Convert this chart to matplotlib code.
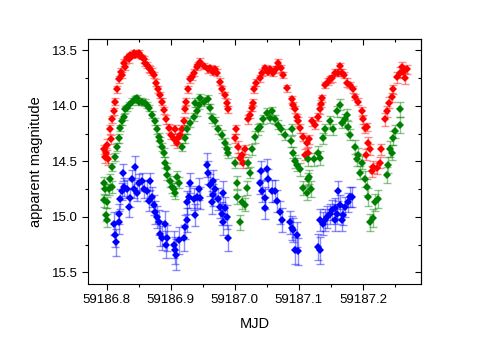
import numpy as np
import matplotlib
matplotlib.use("Agg")
from matplotlib import pyplot as plt
from matplotlib.ticker import MultipleLocator, FormatStrFormatter

plt.rcParams['font.family'] = ['Liberation Sans', 'DejaVu Sans']

MJD0 = 59186.0

# (MJD - 59186, magnitude, error)
red_pts = [
    (0.7958, 14.39, 0.04), (0.7973, 14.46, 0.05), (0.7989, 14.42, 0.04), (0.8005, 14.35, 0.05),
    (0.8020, 14.48, 0.05), (0.8052, 14.21, 0.04), (0.8067, 14.30, 0.04), (0.8083, 14.12, 0.03),
    (0.8114, 14.05, 0.03), (0.8130, 13.96, 0.03), (0.8161, 13.85, 0.03), (0.8192, 13.76, 0.03),
    (0.8223, 13.69, 0.03), (0.8239, 13.72, 0.03), (0.8270, 13.61, 0.03), (0.8286, 13.65, 0.03),
    (0.8317, 13.57, 0.02), (0.8348, 13.58, 0.03), (0.8364, 13.54, 0.02), (0.8395, 13.55, 0.02),
    (0.8427, 13.52, 0.02), (0.8442, 13.54, 0.02), (0.8473, 13.53, 0.02), (0.8505, 13.52, 0.02),
    (0.8520, 13.55, 0.02), (0.8552, 13.56, 0.02), (0.8583, 13.58, 0.03), (0.8598, 13.61, 0.03),
    (0.8630, 13.63, 0.03), (0.8661, 13.66, 0.03), (0.8677, 13.67, 0.03), (0.8708, 13.69, 0.03),
    (0.8739, 13.72, 0.03), (0.8770, 13.79, 0.03), (0.8802, 13.85, 0.03), (0.8833, 13.90, 0.03),
    (0.8864, 13.96, 0.03), (0.8895, 14.04, 0.03), (0.8927, 14.12, 0.04), (0.8973, 14.20, 0.04),
    (0.9005, 14.26, 0.04), (0.9052, 14.30, 0.05), (0.9067, 14.21, 0.04), (0.9098, 14.33, 0.05),
    (0.9114, 14.29, 0.05), (0.9145, 14.26, 0.04), (0.9177, 14.21, 0.04), (0.9208, 14.14, 0.04),
    (0.9223, 14.03, 0.03), (0.9239, 13.96, 0.03), (0.9270, 13.85, 0.03), (0.9302, 13.76, 0.03),
    (0.9333, 13.74, 0.03), (0.9364, 13.70, 0.03), (0.9411, 13.65, 0.03), (0.9427, 13.63, 0.03),
    (0.9458, 13.60, 0.03), (0.9520, 13.64, 0.03), (0.9583, 13.67, 0.03), (0.9614, 13.66, 0.03),
    (0.9661, 13.69, 0.03), (0.9692, 13.67, 0.03), (0.9723, 13.70, 0.03), (0.9770, 13.78, 0.03),
    (0.9802, 13.85, 0.03), (0.9848, 13.90, 0.03), (0.9880, 13.97, 0.03), (0.9895, 14.03, 0.03),
    (1.0005, 14.29, 0.04), (1.0020, 14.21, 0.04), (1.0052, 14.37, 0.05), (1.0083, 14.47, 0.05),
    (1.0114, 14.44, 0.05), (1.0130, 14.51, 0.05), (1.0161, 14.39, 0.04), (1.0208, 14.12, 0.04),
    (1.0239, 14.08, 0.03), (1.0270, 14.02, 0.03), (1.0286, 13.97, 0.03), (1.0302, 13.85, 0.03),
    (1.0333, 13.79, 0.03), (1.0395, 13.75, 0.03), (1.0427, 13.70, 0.03), (1.0473, 13.66, 0.03),
    (1.0520, 13.69, 0.03), (1.0552, 13.67, 0.03), (1.0598, 13.70, 0.03), (1.0645, 13.67, 0.03),
    (1.0677, 13.61, 0.03), (1.0723, 13.66, 0.03), (1.0755, 13.72, 0.03), (1.0817, 13.84, 0.03),
    (1.0895, 13.94, 0.03), (1.0911, 13.99, 0.03), (1.0942, 14.03, 0.03), (1.0973, 14.10, 0.03),
    (1.0989, 14.14, 0.04), (1.1020, 14.20, 0.04), (1.1067, 14.28, 0.04), (1.1098, 14.44, 0.05),
    (1.1130, 14.33, 0.05), (1.1145, 14.42, 0.05), (1.1161, 14.30, 0.04), (1.1208, 14.14, 0.04),
    (1.1255, 14.17, 0.04), (1.1302, 14.10, 0.04), (1.1333, 14.03, 0.04), (1.1348, 13.98, 0.03),
    (1.1364, 13.93, 0.03), (1.1411, 13.81, 0.03), (1.1458, 13.78, 0.03), (1.1489, 13.76, 0.03),
    (1.1520, 13.75, 0.03), (1.1567, 13.70, 0.03), (1.1614, 13.70, 0.03), (1.1645, 13.64, 0.03),
    (1.1677, 13.70, 0.03), (1.1708, 13.72, 0.03), (1.1755, 13.79, 0.04), (1.1802, 13.81, 0.03),
    (1.1848, 13.85, 0.03), (1.1880, 13.92, 0.03), (1.1927, 13.96, 0.03), (1.1989, 14.05, 0.04),
    (1.2005, 14.12, 0.04), (1.2036, 14.20, 0.04), (1.2067, 14.19, 0.04), (1.2052, 14.44, 0.05),
    (1.2083, 14.33, 0.05), (1.2114, 14.39, 0.05), (1.2145, 14.59, 0.05), (1.2161, 14.55, 0.05),
    (1.2223, 14.56, 0.05), (1.2270, 14.51, 0.05), (1.2286, 14.39, 0.05), (1.2348, 14.12, 0.06),
    (1.2380, 14.05, 0.05), (1.2411, 13.97, 0.05), (1.2458, 13.92, 0.04), (1.2473, 13.85, 0.04),
    (1.2536, 13.74, 0.05), (1.2583, 13.70, 0.05), (1.2614, 13.65, 0.05), (1.2630, 13.69, 0.05),
    (1.2661, 13.75, 0.05), (1.2692, 13.67, 0.04),
]

green_pts = [
    (0.7958, 14.69, 0.05), (0.7958, 14.85, 0.06), (0.7973, 14.75, 0.05), (0.7989, 14.98, 0.06),
    (0.8005, 14.87, 0.05), (0.8005, 15.03, 0.06), (0.8036, 14.75, 0.05), (0.8052, 14.66, 0.05),
    (0.8083, 14.55, 0.04), (0.8083, 14.73, 0.05), (0.8130, 14.46, 0.04), (0.8161, 14.37, 0.04),
    (0.8192, 14.29, 0.04), (0.8208, 14.20, 0.03), (0.8239, 14.14, 0.03), (0.8270, 14.10, 0.03),
    (0.8286, 14.03, 0.03), (0.8317, 14.02, 0.03), (0.8348, 13.99, 0.03), (0.8395, 13.96, 0.03),
    (0.8442, 13.94, 0.03), (0.8473, 13.93, 0.03), (0.8505, 13.96, 0.03), (0.8552, 13.96, 0.03),
    (0.8598, 13.97, 0.03), (0.8630, 13.99, 0.03), (0.8661, 14.02, 0.03), (0.8708, 14.08, 0.03),
    (0.8755, 14.14, 0.03), (0.8786, 14.21, 0.04), (0.8817, 14.28, 0.04), (0.8833, 14.32, 0.04),
    (0.8864, 14.37, 0.04), (0.8895, 14.42, 0.04), (0.8911, 14.51, 0.05), (0.8942, 14.56, 0.05),
    (0.8942, 14.62, 0.05), (0.8989, 14.68, 0.05), (0.9020, 14.73, 0.05), (0.9052, 14.75, 0.06),
    (0.9067, 14.78, 0.06), (0.9098, 14.64, 0.05), (0.9130, 14.69, 0.05), (0.9177, 14.37, 0.04),
    (0.9223, 14.29, 0.04), (0.9255, 14.21, 0.04), (0.9302, 14.15, 0.04), (0.9364, 14.10, 0.04),
    (0.9380, 13.97, 0.04), (0.9411, 14.05, 0.04), (0.9442, 13.99, 0.04), (0.9458, 13.93, 0.04),
    (0.9520, 13.96, 0.04), (0.9583, 13.94, 0.04), (0.9614, 14.02, 0.04), (0.9645, 14.11, 0.04),
    (0.9692, 14.14, 0.04), (0.9739, 14.21, 0.04), (0.9802, 14.26, 0.04), (0.9848, 14.33, 0.04),
    (0.9880, 14.39, 0.05), (0.9895, 14.42, 0.05), (1.0005, 14.51, 0.05), (1.0036, 14.69, 0.06),
    (1.0036, 14.82, 0.06), (1.0083, 15.05, 0.07), (1.0114, 14.87, 0.06), (1.0161, 14.89, 0.06),
    (1.0192, 14.74, 0.06), (1.0208, 14.51, 0.05), (1.0239, 14.60, 0.05), (1.0270, 14.39, 0.05),
    (1.0317, 14.28, 0.05), (1.0364, 14.21, 0.05), (1.0395, 14.19, 0.04), (1.0442, 14.12, 0.04),
    (1.0505, 14.06, 0.04), (1.0552, 14.11, 0.04), (1.0583, 14.05, 0.04), (1.0630, 14.12, 0.04),
    (1.0677, 14.17, 0.04), (1.0723, 14.21, 0.04), (1.0786, 14.26, 0.05), (1.0880, 14.32, 0.05),
    (1.0895, 14.21, 0.05), (1.0911, 14.42, 0.05), (1.0942, 14.50, 0.06), (1.0973, 14.53, 0.06),
    (1.1020, 14.57, 0.06), (1.1067, 14.74, 0.06), (1.1130, 14.78, 0.07), (1.1145, 14.66, 0.06),
    (1.1145, 14.48, 0.06), (1.1161, 14.64, 0.06), (1.1192, 14.75, 0.07), (1.1239, 14.48, 0.06),
    (1.1302, 14.42, 0.06), (1.1333, 14.47, 0.06), (1.1380, 14.29, 0.05), (1.1411, 14.21, 0.05),
    (1.1489, 14.14, 0.05), (1.1536, 14.21, 0.05), (1.1598, 14.05, 0.05), (1.1645, 13.99, 0.05),
    (1.1677, 14.15, 0.05), (1.1723, 14.12, 0.05), (1.1755, 14.08, 0.05), (1.1770, 14.19, 0.05),
    (1.1802, 14.26, 0.05), (1.1880, 14.37, 0.06), (1.1911, 14.48, 0.06), (1.1927, 14.44, 0.06),
    (1.1958, 14.60, 0.06), (1.1989, 14.51, 0.06), (1.2036, 14.66, 0.07), (1.2067, 14.73, 0.07),
    (1.2083, 14.82, 0.08), (1.2114, 15.05, 0.08), (1.2161, 15.01, 0.08), (1.2192, 14.87, 0.08),
    (1.2239, 14.84, 0.08), (1.2380, 14.62, 0.07), (1.2395, 14.53, 0.07), (1.2427, 14.39, 0.07),
    (1.2458, 14.42, 0.07), (1.2473, 14.29, 0.06), (1.2505, 14.23, 0.06), (1.2583, 14.17, 0.07),
    (1.2583, 14.03, 0.07),
]

blue_pts = [
    (0.8114, 15.06, 0.10), (0.8130, 15.16, 0.11), (0.8145, 15.23, 0.12), (0.8192, 15.05, 0.10),
    (0.8192, 14.97, 0.09), (0.8208, 14.84, 0.09), (0.8239, 14.77, 0.08), (0.8255, 14.60, 0.08),
    (0.8270, 14.73, 0.08), (0.8317, 14.75, 0.08), (0.8348, 14.91, 0.09), (0.8364, 14.83, 0.08),
    (0.8395, 14.66, 0.08), (0.8427, 14.75, 0.08), (0.8442, 14.55, 0.10), (0.8473, 14.78, 0.08),
    (0.8505, 14.69, 0.08), (0.8552, 14.68, 0.08), (0.8583, 14.75, 0.08), (0.8630, 14.77, 0.09),
    (0.8661, 14.86, 0.09), (0.8677, 14.68, 0.08), (0.8708, 14.82, 0.09), (0.8739, 14.89, 0.09),
    (0.8755, 14.96, 0.10), (0.8786, 15.00, 0.10), (0.8817, 15.05, 0.11), (0.8833, 15.15, 0.11),
    (0.8864, 15.19, 0.11), (0.8911, 15.06, 0.11), (0.8927, 15.25, 0.12), (0.8942, 15.19, 0.12),
    (0.9052, 15.25, 0.12), (0.9067, 15.30, 0.12), (0.9083, 15.34, 0.14), (0.9130, 15.21, 0.12),
    (0.9208, 15.19, 0.12), (0.9223, 15.09, 0.11), (0.9255, 15.03, 0.11), (0.9255, 14.87, 0.10),
    (0.9286, 14.82, 0.10), (0.9302, 14.69, 0.09), (0.9364, 14.84, 0.10), (0.9380, 14.98, 0.10),
    (0.9411, 14.82, 0.10), (0.9442, 14.75, 0.10), (0.9458, 14.83, 0.10), (0.9567, 14.53, 0.11),
    (0.9583, 14.60, 0.10), (0.9614, 14.71, 0.10), (0.9645, 14.87, 0.10), (0.9661, 14.68, 0.10),
    (0.9661, 14.80, 0.10), (0.9692, 14.75, 0.09), (0.9739, 14.84, 0.10), (0.9770, 14.91, 0.10),
    (0.9802, 14.97, 0.10), (0.9817, 14.78, 0.10), (0.9817, 15.05, 0.11), (0.9848, 14.92, 0.10),
    (0.9880, 15.00, 0.11), (0.9895, 15.19, 0.12), (1.0395, 14.69, 0.10), (1.0411, 14.59, 0.09),
    (1.0427, 14.77, 0.10), (1.0473, 14.83, 0.10), (1.0473, 14.92, 0.10), (1.0505, 14.57, 0.09),
    (1.0520, 14.66, 0.09), (1.0583, 14.77, 0.10), (1.0630, 14.77, 0.10), (1.0661, 14.86, 0.10),
    (1.0708, 14.96, 0.10), (1.0739, 15.03, 0.11), (1.0864, 15.05, 0.10), (1.0895, 15.10, 0.11),
    (1.0911, 15.12, 0.11), (1.0942, 15.30, 0.12), (1.0973, 15.16, 0.11), (1.0989, 15.31, 0.12),
    (1.1302, 15.27, 0.12), (1.1333, 15.30, 0.12), (1.1333, 15.03, 0.10), (1.1380, 15.06, 0.10),
    (1.1411, 15.03, 0.10), (1.1442, 15.00, 0.10), (1.1489, 14.97, 0.09), (1.1520, 14.94, 0.09),
    (1.1567, 14.92, 0.09), (1.1567, 15.03, 0.10), (1.1598, 14.97, 0.09), (1.1614, 14.77, 0.09),
    (1.1645, 14.89, 0.09), (1.1677, 15.03, 0.10), (1.1692, 14.98, 0.09), (1.1723, 14.91, 0.09),
    (1.1770, 14.87, 0.09), (1.1802, 14.82, 0.09), (1.1833, 14.82, 0.09),
]

series = [
    (red_pts, '#ff0000'),
    (green_pts, '#008000'),
    (blue_pts, '#0000ff'),
]

fig = plt.figure(figsize=(4.88, 3.41), dpi=100)
ax = fig.add_axes([0.1803, 0.1686, 0.682, 0.716])

for pts, col in series:
    t, m, e = (np.array(v) for v in zip(*pts))
    ax.errorbar(MJD0 + t, m, yerr=e, fmt='none', ecolor=col, alpha=0.45,
                elinewidth=1.0, capsize=2.6, capthick=1.0, zorder=1)
    ax.plot(MJD0 + t, m, 'D', color=col, ms=4.5, mew=0, zorder=2)

ax.set_xlim(59186.771, 59187.29)
ax.set_ylim(15.6, 13.4)

ax.xaxis.set_major_locator(MultipleLocator(0.1))
ax.xaxis.set_minor_locator(MultipleLocator(0.05))
ax.yaxis.set_major_locator(MultipleLocator(0.5))
ax.yaxis.set_minor_locator(MultipleLocator(0.25))
ax.xaxis.set_major_formatter(FormatStrFormatter('%.1f'))
ax.yaxis.set_major_formatter(FormatStrFormatter('%.1f'))

ax.tick_params(which='both', direction='out', top=False, right=False, labelsize=9.5, width=0.8)
ax.tick_params(which='major', length=4)
ax.tick_params(which='minor', length=2.3)

# inward ticks on the top and right, like the Origin default
sec_x = ax.secondary_xaxis('top')
sec_x.xaxis.set_major_locator(MultipleLocator(0.1))
sec_x.xaxis.set_minor_locator(MultipleLocator(0.05))
sec_x.tick_params(which='both', direction='in', labeltop=False, width=0.8)
sec_x.tick_params(which='major', length=4)
sec_x.tick_params(which='minor', length=2.3)
sec_y = ax.secondary_yaxis('right')
sec_y.yaxis.set_major_locator(MultipleLocator(0.5))
sec_y.yaxis.set_minor_locator(MultipleLocator(0.25))
sec_y.tick_params(which='both', direction='in', labelright=False, width=0.8)
sec_y.tick_params(which='major', length=4)
sec_y.tick_params(which='minor', length=2.3)

for sp in ax.spines.values():
    sp.set_linewidth(0.8)

ax.set_xlabel("MJD", fontsize=10.5, labelpad=8)
ax.set_ylabel("apparent magnitude", fontsize=10.5, labelpad=6)

fig.savefig("out.png", dpi=100)
